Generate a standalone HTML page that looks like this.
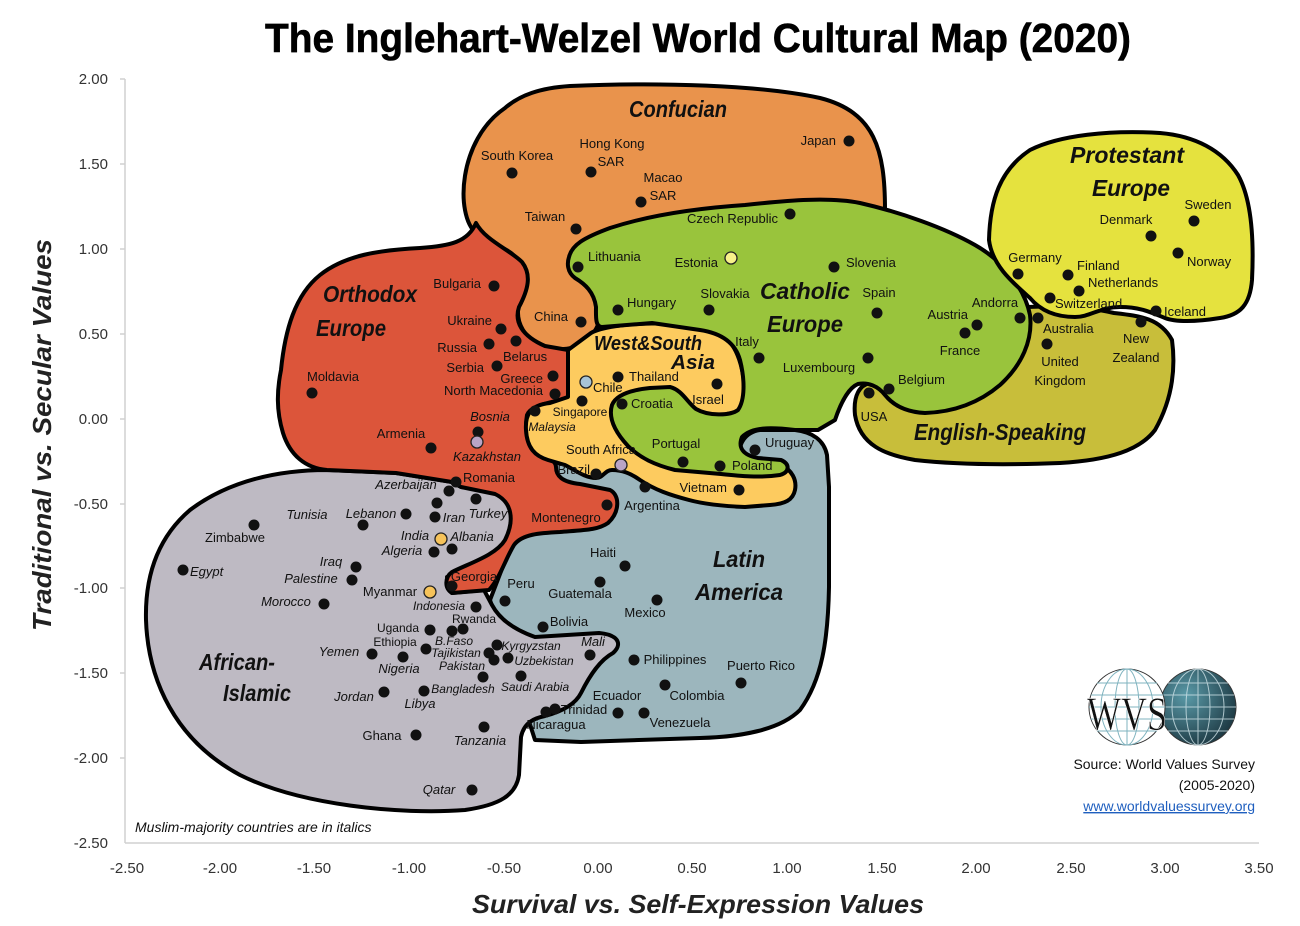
<!DOCTYPE html>
<html><head><meta charset="utf-8"><style>
html,body{margin:0;padding:0;background:#fff;}
svg{display:block;}
.t{font-family:"Liberation Sans",sans-serif;font-size:13px;fill:#111;}
.i{font-style:italic;}
.ax{font-family:"Liberation Sans",sans-serif;font-size:15px;fill:#333;}
.rg{font-family:"Liberation Sans",sans-serif;font-weight:bold;font-style:italic;font-size:23px;fill:#111;}
</style></head><body>
<svg width="1300" height="926" viewBox="0 0 1300 926" xmlns="http://www.w3.org/2000/svg">
<rect width="1300" height="926" fill="#fff"/>
<text x="698" y="52" text-anchor="middle" font-family="Liberation Sans, sans-serif" font-weight="bold" font-size="41" stroke="#000" stroke-width="0.6" textLength="866" lengthAdjust="spacingAndGlyphs">The Inglehart-Welzel World Cultural Map (2020)</text>

<!-- axes -->
<g stroke="#d0d0d0" stroke-width="1.5">
<line x1="125" y1="79" x2="125" y2="843"/><line x1="125" y1="843" x2="1259" y2="843"/>
<line x1="120" y1="79" x2="125" y2="79"/><line x1="120" y1="164" x2="125" y2="164"/><line x1="120" y1="249" x2="125" y2="249"/><line x1="120" y1="334" x2="125" y2="334"/><line x1="120" y1="419" x2="125" y2="419"/><line x1="120" y1="504" x2="125" y2="504"/><line x1="120" y1="588" x2="125" y2="588"/><line x1="120" y1="673" x2="125" y2="673"/><line x1="120" y1="758" x2="125" y2="758"/>
</g>
<g class="ax" text-anchor="end">
<text x="108" y="84">2.00</text><text x="108" y="169">1.50</text><text x="108" y="254">1.00</text><text x="108" y="339">0.50</text><text x="108" y="424">0.00</text><text x="108" y="509">-0.50</text><text x="108" y="593">-1.00</text><text x="108" y="678">-1.50</text><text x="108" y="763">-2.00</text><text x="108" y="848">-2.50</text>
</g>
<g class="ax" text-anchor="middle">
<text x="127" y="873">-2.50</text><text x="220" y="873">-2.00</text><text x="314" y="873">-1.50</text><text x="409" y="873">-1.00</text><text x="504" y="873">-0.50</text><text x="598" y="873">0.00</text><text x="692" y="873">0.50</text><text x="787" y="873">1.00</text><text x="882" y="873">1.50</text><text x="976" y="873">2.00</text><text x="1071" y="873">2.50</text><text x="1165" y="873">3.00</text><text x="1259" y="873">3.50</text>
</g>
<text x="698" y="913" text-anchor="middle" font-family="Liberation Sans, sans-serif" font-weight="bold" font-style="italic" font-size="26" fill="#222" textLength="452" lengthAdjust="spacingAndGlyphs">Survival vs. Self-Expression Values</text>
<text transform="translate(51,435) rotate(-90)" text-anchor="middle" font-family="Liberation Sans, sans-serif" font-weight="bold" font-style="italic" font-size="26" fill="#222" textLength="392" lengthAdjust="spacingAndGlyphs">Traditional vs. Secular Values</text>

<g stroke="#000" stroke-width="4" stroke-linejoin="round">
<path fill="#9CB6BD" d="M490,600 L540,470 L560,458 L740,455 C738,445 745,432 760,430 L795,430 C812,432 824,440 827,455 L829,487 L829,587 C828,640 822,680 800,710 C780,730 740,737 700,738 L581,742 L535,740 Z"/>
<path fill="#BEBAC3" d="M327,470 C280,470 230,480 190,510 C155,540 145,580 146,620 C148,680 175,740 240,775 C300,805 400,815 465,810 C500,805 516,795 519,775 L521,737 C524,722 535,718 545,716 C560,712 575,705 581,693 C590,675 600,660 613,653 C622,645 620,635 599,633 L535,637 C515,630 500,620 492,605 L484,590 L452,593 L447,577 L470,567 C495,560 510,545 513,525 C516,505 505,492 490,490 L461,487 L452,482 L396,473 Z"/>
<path fill="#E9934C" d="M476,233 C455,215 458,140 505,108 C520,95 540,88 570,86 C660,82 760,85 820,98 C875,112 885,150 885,210 L885,260 L600,300 L602,310 C598,340 575,353 550,348 C525,342 513,322 520,300 C528,278 526,255 495,245 Z"/>
<path fill="#DC553A" d="M476,223 C485,240 510,250 522,262 C532,275 528,290 519,307 C514,322 522,336 545,346 L568,350 L568,397 C556,403 532,403 527,415 C524,432 528,448 541,453 C550,458 556,462 556,467 C556,476 562,482 580,484 L610,490 C620,495 620,512 608,523 C598,530 585,530 560,532 C540,533 522,534 514,545 C505,560 500,578 489,590 L452,593 C444,588 445,577 452,572 C470,563 496,555 505,540 C515,520 512,502 495,494 L461,487 L452,482 L396,473 L327,470 C305,468 290,455 283,433 C276,410 277,390 281,370 C285,330 295,295 320,275 C345,255 380,250 420,248 C450,246 468,242 476,223 Z"/>
<path fill="#C8BE3A" d="M1000,310 C1030,305 1080,305 1114,313 C1140,316 1160,318 1172,340 C1176,370 1172,400 1155,430 C1140,450 1110,460 1060,463 C1010,465 960,465 915,460 C885,455 860,445 855,415 C853,395 860,385 870,383 L900,395 Z"/>
<path fill="#FDCB5F" d="M568,350 L591,333 C610,322 690,318 722,335 C738,345 744,370 745,395 L745,410 L700,420 L700,460 L781,465 C792,470 797,480 795,490 C793,500 785,504 770,505 L745,507 C720,506 700,503 689,500 C670,495 655,490 640,480 C630,473 622,470 612,470 C605,470 603,478 596,478 C585,478 575,470 565,465 L548,460 C535,456 527,448 526,430 C525,415 530,405 550,403 L568,397 Z"/>
<path fill="#99C43C" d="M569,257 C572,245 583,238 610,228 C650,215 700,208 745,205 C790,200 830,197 860,203 C900,212 945,228 975,245 C1005,262 1025,290 1030,315 C1033,340 1022,365 1000,385 C980,402 955,412 925,413 C905,412 893,405 885,395 C878,386 868,382 858,384 C848,388 840,405 835,420 L818,430 L795,430 C770,427 752,427 742,437 C738,447 742,455 758,458 L781,460 C790,464 790,472 780,475 C760,478 740,476 721,474 L675,470 C655,465 640,458 628,446 C615,432 608,418 612,405 C616,395 630,390 650,388 L670,387 C682,390 687,402 696,409 C708,416 730,416 738,410 C745,400 745,380 740,360 C735,342 720,333 700,330 L652,323 L602,327 C595,327 596,316 596,307 C594,292 585,284 575,278 C567,272 567,263 569,257 Z"/>
<path fill="#E5E23E" d="M989,240 C990,200 1000,170 1030,150 C1060,135 1110,130 1160,133 C1195,136 1222,150 1238,175 C1252,200 1254,240 1252,280 C1250,305 1240,315 1220,318 C1195,322 1175,322 1165,318 C1150,312 1140,307 1120,307 C1100,307 1090,317 1075,317 C1055,317 1040,310 1030,298 C1012,282 992,265 989,240 Z"/>
</g>

<g class="rg">
<text x="678" y="117" text-anchor="middle" textLength="98" lengthAdjust="spacingAndGlyphs">Confucian</text>
<text x="1127" y="163" text-anchor="middle" textLength="114" lengthAdjust="spacingAndGlyphs">Protestant</text>
<text x="1131" y="196" text-anchor="middle" textLength="78" lengthAdjust="spacingAndGlyphs">Europe</text>
<text x="805" y="299" text-anchor="middle" textLength="90" lengthAdjust="spacingAndGlyphs">Catholic</text>
<text x="805" y="332" text-anchor="middle" textLength="76" lengthAdjust="spacingAndGlyphs">Europe</text>
<text x="370" y="302" text-anchor="middle" textLength="94" lengthAdjust="spacingAndGlyphs">Orthodox</text>
<text x="351" y="336" text-anchor="middle" textLength="70" lengthAdjust="spacingAndGlyphs">Europe</text>
<text x="648" y="350" text-anchor="middle" font-size="20" textLength="108" lengthAdjust="spacingAndGlyphs">West&amp;South</text>
<text x="693" y="369" text-anchor="middle" font-size="20" textLength="44" lengthAdjust="spacingAndGlyphs">Asia</text>
<text x="1000" y="440" text-anchor="middle" textLength="172" lengthAdjust="spacingAndGlyphs">English-Speaking</text>
<text x="739" y="567" text-anchor="middle" textLength="52" lengthAdjust="spacingAndGlyphs">Latin</text>
<text x="739" y="600" text-anchor="middle" textLength="88" lengthAdjust="spacingAndGlyphs">America</text>
<text x="237" y="670" text-anchor="middle" textLength="76" lengthAdjust="spacingAndGlyphs">African-</text>
<text x="257" y="701" text-anchor="middle" textLength="68" lengthAdjust="spacingAndGlyphs">Islamic</text>
</g>

<g fill="#111">
<circle cx="849" cy="141" r="5.5"/><circle cx="512" cy="173" r="5.5"/><circle cx="591" cy="172" r="5.5"/><circle cx="641" cy="202" r="5.5"/><circle cx="576" cy="229" r="5.5"/><circle cx="790" cy="214" r="5.5"/><circle cx="578" cy="267" r="5.5"/><circle cx="834" cy="267" r="5.5"/><circle cx="709" cy="310" r="5.5"/><circle cx="618" cy="310" r="5.5"/><circle cx="581" cy="322" r="5.5"/>
<circle cx="494" cy="286" r="5.5"/><circle cx="501" cy="329" r="5.5"/><circle cx="489" cy="344" r="5.5"/><circle cx="516" cy="341" r="5.5"/><circle cx="497" cy="366" r="5.5"/><circle cx="553" cy="376" r="5.5"/><circle cx="555" cy="394" r="5.5"/><circle cx="312" cy="393" r="5.5"/><circle cx="478" cy="432" r="5.5"/><circle cx="431" cy="448" r="5.5"/>
<circle cx="618" cy="377" r="5.5"/><circle cx="582" cy="401" r="5.5"/><circle cx="535" cy="411" r="5.5"/><circle cx="622" cy="404" r="5.5"/><circle cx="717" cy="384" r="5.5"/><circle cx="759" cy="358" r="5.5"/><circle cx="877" cy="313" r="5.5"/><circle cx="868" cy="358" r="5.5"/><circle cx="977" cy="325" r="5.5"/><circle cx="965" cy="333" r="5.5"/><circle cx="1020" cy="318" r="5.5"/><circle cx="1038" cy="318" r="5.5"/><circle cx="889" cy="389" r="5.5"/><circle cx="869" cy="393" r="5.5"/>
<circle cx="1018" cy="274" r="5.5"/><circle cx="1068" cy="275" r="5.5"/><circle cx="1079" cy="291" r="5.5"/><circle cx="1050" cy="298" r="5.5"/><circle cx="1151" cy="236" r="5.5"/><circle cx="1194" cy="221" r="5.5"/><circle cx="1178" cy="253" r="5.5"/><circle cx="1156" cy="311" r="5.5"/><circle cx="1047" cy="344" r="5.5"/><circle cx="1141" cy="322" r="5.5"/>
<circle cx="683" cy="462" r="5.5"/><circle cx="720" cy="466" r="5.5"/><circle cx="755" cy="450" r="5.5"/><circle cx="596" cy="474" r="5.5"/><circle cx="739" cy="490" r="5.5"/><circle cx="645" cy="487" r="5.5"/><circle cx="607" cy="505" r="5.5"/>
<circle cx="456" cy="482" r="5.5"/><circle cx="449" cy="491" r="5.5"/><circle cx="437" cy="503" r="5.5"/><circle cx="435" cy="517" r="5.5"/><circle cx="476" cy="499" r="5.5"/><circle cx="406" cy="514" r="5.5"/><circle cx="363" cy="525" r="5.5"/><circle cx="254" cy="525" r="5.5"/><circle cx="452" cy="549" r="5.5"/><circle cx="434" cy="552" r="5.5"/><circle cx="356" cy="567" r="5.5"/><circle cx="352" cy="580" r="5.5"/><circle cx="324" cy="604" r="5.5"/><circle cx="183" cy="570" r="5.5"/><circle cx="452" cy="586" r="5.5"/><circle cx="476" cy="607" r="5.5"/><circle cx="505" cy="601" r="5.5"/><circle cx="452" cy="631" r="5.5"/><circle cx="463" cy="629" r="5.5"/><circle cx="430" cy="630" r="5.5"/><circle cx="426" cy="649" r="5.5"/><circle cx="372" cy="654" r="5.5"/><circle cx="403" cy="657" r="5.5"/><circle cx="497" cy="645" r="5.5"/><circle cx="489" cy="653" r="5.5"/><circle cx="494" cy="660" r="5.5"/><circle cx="508" cy="658" r="5.5"/><circle cx="483" cy="677" r="5.5"/><circle cx="521" cy="676" r="5.5"/><circle cx="424" cy="691" r="5.5"/><circle cx="384" cy="692" r="5.5"/><circle cx="416" cy="735" r="5.5"/><circle cx="484" cy="727" r="5.5"/><circle cx="472" cy="790" r="5.5"/>
<circle cx="543" cy="627" r="5.5"/><circle cx="590" cy="655" r="5.5"/><circle cx="634" cy="660" r="5.5"/><circle cx="665" cy="685" r="5.5"/><circle cx="741" cy="683" r="5.5"/><circle cx="618" cy="713" r="5.5"/><circle cx="644" cy="713" r="5.5"/><circle cx="546" cy="712" r="5.5"/><circle cx="555" cy="709" r="5.5"/><circle cx="625" cy="566" r="5.5"/><circle cx="600" cy="582" r="5.5"/><circle cx="657" cy="600" r="5.5"/>
</g>
<g stroke="#222" stroke-width="1.3">
<circle cx="731" cy="258" r="6" fill="#F7F28A"/><circle cx="477" cy="442" r="6" fill="#B9A4C6"/><circle cx="586" cy="382" r="6" fill="#A8C4D6"/><circle cx="621" cy="465" r="6" fill="#B9A4C6"/><circle cx="441" cy="539" r="6" fill="#F6C35A"/><circle cx="430" cy="592" r="6" fill="#F6C35A"/>
</g>

<g class="t">
<text x="836" y="145" text-anchor="end">Japan</text>
<text x="517" y="160" text-anchor="middle">South Korea</text>
<text x="612" y="148" text-anchor="middle">Hong Kong</text><text x="611" y="166" text-anchor="middle">SAR</text>
<text x="663" y="182" text-anchor="middle">Macao</text><text x="663" y="200" text-anchor="middle">SAR</text>
<text x="545" y="221" text-anchor="middle">Taiwan</text>
<text x="778" y="223" text-anchor="end">Czech Republic</text>
<text x="588" y="261">Lithuania</text>
<text x="718" y="267" text-anchor="end">Estonia</text>
<text x="846" y="267">Slovenia</text>
<text x="725" y="298" text-anchor="middle">Slovakia</text>
<text x="627" y="307">Hungary</text>
<text x="551" y="321" text-anchor="middle">China</text>
<text x="481" y="288" text-anchor="end">Bulgaria</text>
<text x="492" y="325" text-anchor="end">Ukraine</text>
<text x="477" y="352" text-anchor="end">Russia</text>
<text x="503" y="361">Belarus</text>
<text x="484" y="372" text-anchor="end">Serbia</text>
<text x="543" y="383" text-anchor="end">Greece</text>
<text x="543" y="395" text-anchor="end">North Macedonia</text>
<text x="333" y="381" text-anchor="middle">Moldavia</text>
<text x="490" y="421" text-anchor="middle" class="i">Bosnia</text>
<text x="487" y="461" text-anchor="middle" class="i">Kazakhstan</text>
<text x="401" y="438" text-anchor="middle">Armenia</text>
<text x="593" y="392">Chile</text>
<text x="629" y="381">Thailand</text>
<text x="580" y="416" text-anchor="middle" font-size="12">Singapore</text>
<text x="552" y="431" text-anchor="middle" class="i" font-size="12">Malaysia</text>
<text x="631" y="408">Croatia</text>
<text x="708" y="404" text-anchor="middle">Israel</text>
<text x="747" y="346" text-anchor="middle">Italy</text>
<text x="879" y="297" text-anchor="middle">Spain</text>
<text x="819" y="372" text-anchor="middle">Luxembourg</text>
<text x="968" y="319" text-anchor="end">Austria</text>
<text x="960" y="355" text-anchor="middle">France</text>
<text x="995" y="307" text-anchor="middle">Andorra</text>
<text x="898" y="384">Belgium</text>
<text x="874" y="421" text-anchor="middle">USA</text>
<text x="1035" y="262" text-anchor="middle">Germany</text>
<text x="1077" y="270">Finland</text>
<text x="1088" y="287">Netherlands</text>
<text x="1055" y="308">Switzerland</text>
<text x="1126" y="224" text-anchor="middle">Denmark</text>
<text x="1208" y="209" text-anchor="middle">Sweden</text>
<text x="1187" y="266">Norway</text>
<text x="1164" y="316">Iceland</text>
<text x="1043" y="333">Australia</text>
<text x="1060" y="366" text-anchor="middle">United</text><text x="1060" y="385" text-anchor="middle">Kingdom</text>
<text x="1136" y="343" text-anchor="middle">New</text><text x="1136" y="362" text-anchor="middle">Zealand</text>
<text x="676" y="448" text-anchor="middle">Portugal</text>
<text x="732" y="470">Poland</text>
<text x="765" y="447">Uruguay</text>
<text x="601" y="454" text-anchor="middle">South Africa</text>
<text x="590" y="474" text-anchor="end">Brazil</text>
<text x="727" y="492" text-anchor="end">Vietnam</text>
<text x="652" y="510" text-anchor="middle">Argentina</text>
<text x="566" y="522" text-anchor="middle">Montenegro</text>
<text x="489" y="482" text-anchor="middle">Romania</text>
<text x="406" y="489" text-anchor="middle" class="i">Azerbaijan</text>
<text x="307" y="519" text-anchor="middle" class="i">Tunisia</text>
<text x="371" y="518" text-anchor="middle" class="i">Lebanon</text>
<text x="454" y="522" text-anchor="middle" class="i">Iran</text>
<text x="488" y="518" text-anchor="middle" class="i">Turkey</text>
<text x="235" y="542" text-anchor="middle">Zimbabwe</text>
<text x="415" y="540" text-anchor="middle" class="i">India</text>
<text x="472" y="541" text-anchor="middle" class="i">Albania</text>
<text x="402" y="555" text-anchor="middle" class="i">Algeria</text>
<text x="331" y="566" text-anchor="middle" class="i">Iraq</text>
<text x="311" y="583" text-anchor="middle" class="i">Palestine</text>
<text x="190" y="576" class="i">Egypt</text>
<text x="286" y="606" text-anchor="middle" class="i">Morocco</text>
<text x="390" y="596" text-anchor="middle">Myanmar</text>
<text x="474" y="581" text-anchor="middle">Georgia</text>
<text x="439" y="610" text-anchor="middle" class="i" font-size="12">Indonesia</text>
<text x="474" y="623" text-anchor="middle" font-size="12">Rwanda</text>
<text x="521" y="588" text-anchor="middle">Peru</text>
<text x="398" y="632" text-anchor="middle" font-size="12">Uganda</text>
<text x="395" y="646" text-anchor="middle" font-size="12">Ethiopia</text>
<text x="454" y="645" text-anchor="middle" class="i" font-size="12">B.Faso</text>
<text x="456" y="657" text-anchor="middle" class="i" font-size="12">Tajikistan</text>
<text x="462" y="670" text-anchor="middle" class="i" font-size="12">Pakistan</text>
<text x="531" y="650" text-anchor="middle" class="i" font-size="12">Kyrgyzstan</text>
<text x="544" y="665" text-anchor="middle" class="i" font-size="12">Uzbekistan</text>
<text x="339" y="656" text-anchor="middle" class="i">Yemen</text>
<text x="399" y="673" text-anchor="middle" class="i">Nigeria</text>
<text x="463" y="693" text-anchor="middle" class="i" font-size="12">Bangladesh</text>
<text x="535" y="691" text-anchor="middle" class="i" font-size="12">Saudi Arabia</text>
<text x="354" y="701" text-anchor="middle" class="i">Jordan</text>
<text x="420" y="708" text-anchor="middle" class="i">Libya</text>
<text x="382" y="740" text-anchor="middle">Ghana</text>
<text x="480" y="745" text-anchor="middle" class="i">Tanzania</text>
<text x="439" y="794" text-anchor="middle" class="i">Qatar</text>
<text x="603" y="557" text-anchor="middle">Haiti</text>
<text x="580" y="598" text-anchor="middle">Guatemala</text>
<text x="645" y="617" text-anchor="middle">Mexico</text>
<text x="569" y="626" text-anchor="middle">Bolivia</text>
<text x="593" y="646" text-anchor="middle" class="i">Mali</text>
<text x="675" y="664" text-anchor="middle">Philippines</text>
<text x="761" y="670" text-anchor="middle">Puerto Rico</text>
<text x="617" y="700" text-anchor="middle">Ecuador</text>
<text x="697" y="700" text-anchor="middle">Colombia</text>
<text x="584" y="714" text-anchor="middle">Trinidad</text>
<text x="556" y="729" text-anchor="middle">Nicaragua</text>
<text x="680" y="727" text-anchor="middle">Venezuela</text>
</g>

<text x="135" y="832" font-family="Liberation Sans, sans-serif" font-style="italic" font-size="14" fill="#111">Muslim-majority countries are in italics</text>

<defs>
<radialGradient id="g2" cx="0.35" cy="0.35" r="0.7"><stop offset="0" stop-color="#5a9aa8"/><stop offset="1" stop-color="#1e3a44"/></radialGradient>
</defs>
<g fill="none" stroke-width="1">
<circle cx="1198" cy="707" r="38" fill="url(#g2)" stroke="#333"/>
<g stroke="#cfe3e8" opacity="0.8">
<line x1="1162" y1="695" x2="1234" y2="695"/><line x1="1160" y1="707" x2="1236" y2="707"/><line x1="1162" y1="719" x2="1234" y2="719"/><line x1="1168" y1="683" x2="1228" y2="683"/><line x1="1168" y1="731" x2="1228" y2="731"/>
<ellipse cx="1198" cy="707" rx="12" ry="38"/><ellipse cx="1198" cy="707" rx="26" ry="38"/><line x1="1198" y1="669" x2="1198" y2="745"/>
</g>
<circle cx="1127" cy="707" r="38" fill="#fff" stroke="#333"/>
<g stroke="#7fb3bf">
<line x1="1091" y1="695" x2="1163" y2="695"/><line x1="1089" y1="707" x2="1165" y2="707"/><line x1="1091" y1="719" x2="1163" y2="719"/><line x1="1097" y1="683" x2="1157" y2="683"/><line x1="1097" y1="731" x2="1157" y2="731"/>
<ellipse cx="1127" cy="707" rx="12" ry="38"/><ellipse cx="1127" cy="707" rx="26" ry="38"/><line x1="1127" y1="669" x2="1127" y2="745"/>
</g>
</g>
<text x="1127" y="730" text-anchor="middle" font-family="Liberation Serif, serif" font-size="48" fill="#111" stroke="#fff" stroke-width="0.6" textLength="80" lengthAdjust="spacingAndGlyphs">WVS</text>
<g font-family="Liberation Sans, sans-serif" font-size="14" fill="#111" text-anchor="end">
<text x="1255" y="769">Source: World Values Survey</text>
<text x="1255" y="790">(2005-2020)</text>
<text x="1255" y="811" fill="#1f5fbf" text-decoration="underline">www.worldvaluessurvey.org</text>
</g>
</svg>
</body></html>
